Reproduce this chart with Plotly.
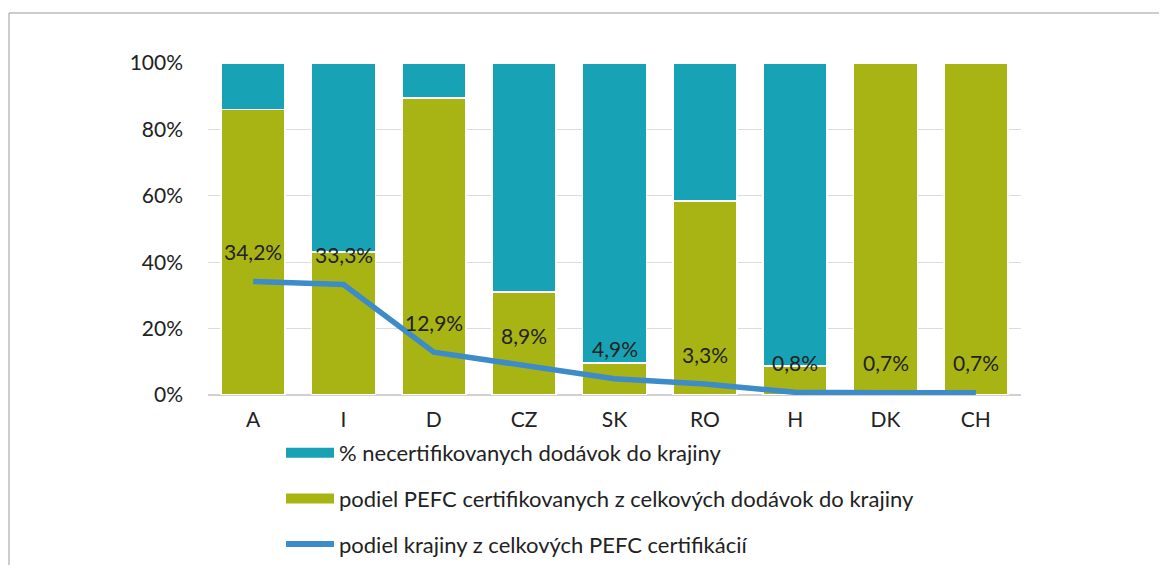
import plotly.graph_objects as go

categories = ["A", "I", "D", "CZ", "SK", "RO", "H", "DK", "CH"]
certified_share = [86, 43, 89.5, 31, 9.6, 58.4, 8.8, 100, 100]
uncertified_share = [round(100 - v, 1) for v in certified_share]
country_share = [34.2, 33.3, 12.9, 8.9, 4.9, 3.3, 0.8, 0.7, 0.7]
tick_vals = [0, 20, 40, 60, 80, 100]
tick_text = ["0%", "20%", "40%", "60%", "80%", "100%"]

name_uncert = "% necertifikovanych dodávok do krajiny"
name_cert = "podiel PEFC certifikovanych z celkových dodávok do krajiny"
name_line = "podiel krajiny z celkových PEFC certifikácií"

TEAL = "#17a2b5"
OLIVE = "#a8b414"
BLUE = "#3d8cc9"
FONT = "Lato"
FS = 21
# page has an 8px body margin; figure coords = page coords - 8
W, H = 1159, 557
L, R, T, B = 200, 146, 55, 170

fig = go.Figure()
fig.add_trace(go.Bar(x=categories, y=certified_share, marker=dict(color=OLIVE, line=dict(color="white", width=1.5)),
                     showlegend=False, name=name_cert))
fig.add_trace(go.Bar(x=categories, y=uncertified_share, marker=dict(color=TEAL, line=dict(color="white", width=1.5)),
                     showlegend=False, name=name_uncert))
fig.add_trace(go.Scatter(x=categories, y=country_share, mode="lines",
                         line=dict(color=BLUE, width=5.5), showlegend=False, name=name_line))

# legend entries
fig.add_trace(go.Scatter(x=[None], y=[None], mode="lines", line=dict(color=TEAL, width=10),
                         name=name_uncert, legendgroup="a"))
fig.add_trace(go.Scatter(x=[None], y=[None], mode="lines", line=dict(color=OLIVE, width=10),
                         name=name_cert, legendgroup="b"))
fig.add_trace(go.Scatter(x=[None], y=[None], mode="lines", line=dict(color=BLUE, width=6),
                         name=name_line, legendgroup="c"))

for c, v in zip(categories, country_share):
    fig.add_annotation(x=c, y=v, yshift=30, showarrow=False,
                       text=f"{v:.1f}".replace(".", ",") + "%",
                       font=dict(family=FONT, size=FS, color="#222"))

def px_to_paper_x(px):
    return (px - L) / (W - L - R)

def px_to_paper_y(py):
    return (H - B - py) / (H - T - B)

frame = dict(color="#9a9a9a", width=1)
fig.add_shape(type="line", xref="paper", yref="paper", x0=px_to_paper_x(1), x1=px_to_paper_x(W),
              y0=px_to_paper_y(5), y1=px_to_paper_y(5), line=frame)
fig.add_shape(type="line", xref="paper", yref="paper", x0=px_to_paper_x(1), x1=px_to_paper_x(1),
              y0=px_to_paper_y(5), y1=px_to_paper_y(H), line=frame)

fig.update_layout(
    width=W, height=H,
    margin=dict(l=L, r=R, t=T, b=B, autoexpand=False),
    barmode="stack", bargap=0.29,
    plot_bgcolor="white", paper_bgcolor="white",
    font=dict(family=FONT, size=FS, color="#222"),
    legend=dict(orientation="v", x=px_to_paper_x(273), xanchor="left",
                y=px_to_paper_y(424), yanchor="top", itemwidth=48,
                tracegroupgap=14, traceorder="grouped",
                font=dict(family=FONT, size=22, color="#222"), bgcolor="rgba(0,0,0,0)"),
    xaxis=dict(showgrid=False, showline=False, ticks="", ticklabelstandoff=10,
               tickfont=dict(family=FONT, size=FS, color="#222")),
    yaxis=dict(range=[0, 100], tickvals=tick_vals, ticktext=tick_text, showgrid=True,
               gridcolor="#dcdce0", gridwidth=1, zeroline=True, zerolinecolor="#d0d0d4",
               ticks="", ticklabelstandoff=24, tickfont=dict(family=FONT, size=FS, color="#222")),
)

fig.write_html("out.html")
